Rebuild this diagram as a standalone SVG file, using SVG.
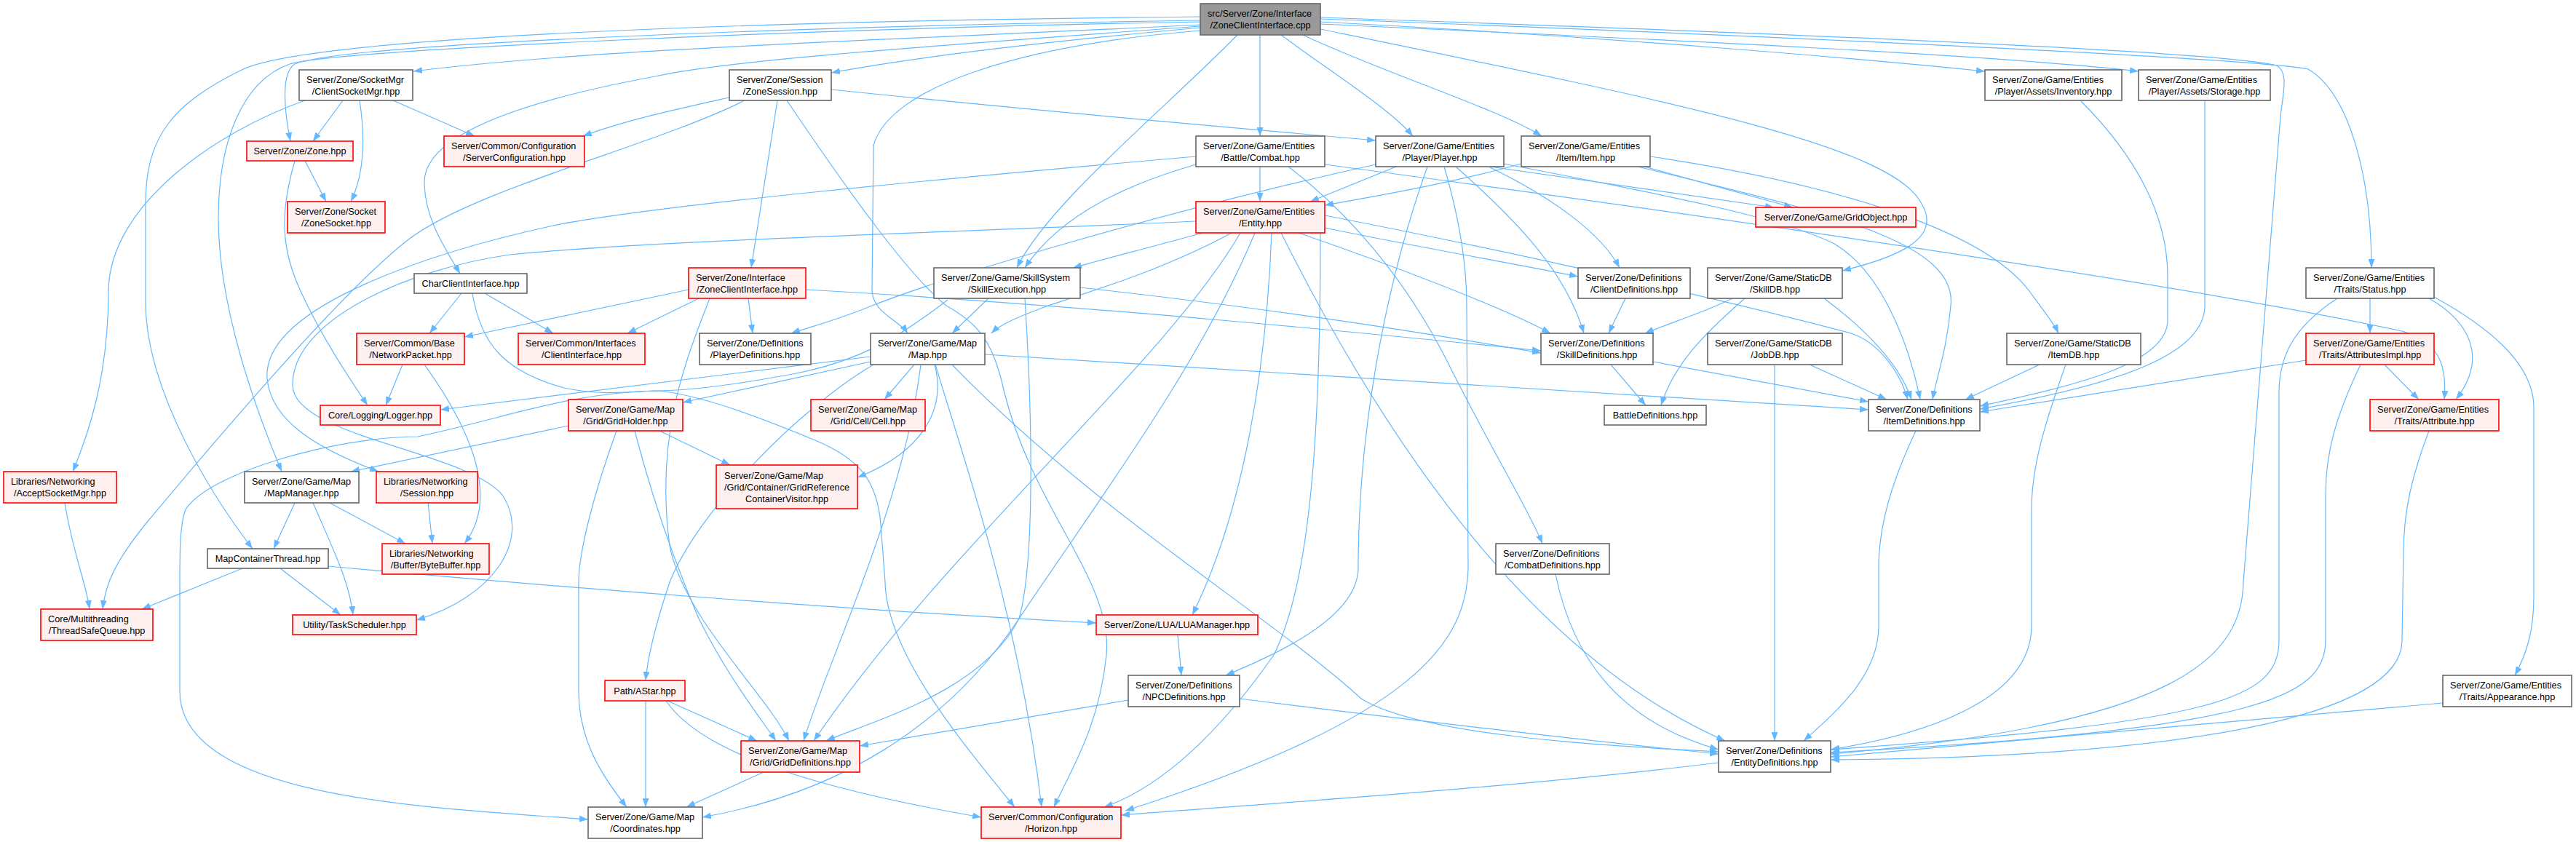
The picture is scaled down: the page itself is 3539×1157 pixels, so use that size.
<svg xmlns="http://www.w3.org/2000/svg" width="3539" height="1157" viewBox="0 0 3539 1157">
<style>
.t{font-family:"Liberation Sans",Arial,Helvetica,sans-serif;font-size:12.7px;fill:#000}
.s{text-anchor:start}
.m{text-anchor:middle}
.w rect{fill:#ffffff;stroke:#666666;stroke-width:1.6}
.r rect{fill:#fff0f0;stroke:#ff0000;stroke-width:1.6}
.g rect{fill:#999999;stroke:#666666;stroke-width:1.6}
#edges path{fill:none;stroke:#63b8ff;stroke-width:1.2;marker-end:url(#a)}
</style>
<defs>
<marker id="a" markerUnits="userSpaceOnUse" markerWidth="12" markerHeight="9" refX="12" refY="4.5" orient="auto"><path d="M0,0 L12,4.5 L0,9 z" fill="#63b8ff"/></marker>
</defs>
<rect width="3539" height="1157" fill="#ffffff"/>
<g id="edges">
<path d="M1649,34 C1300,52 820,66 568,98"/>
<path d="M1649,28 C1100,36 470,60 405,88 C386,100 390,150 399,194"/>
<path d="M1649,23 C1100,28 420,48 330,97 C240,142 200,185 200,280 L200,420 C203,540 290,680 347,754"/>
<path d="M1649,30 C1100,40 470,68 398,88 C330,112 300,200 300,300 C300,420 350,560 387,648"/>
<path d="M1649,38 C1450,56 1260,78 1142,100"/>
<path d="M1649,36 C1300,62 1000,82 900,105 C700,142 583,190 583,250 C583,300 612,342 632,376"/>
<path d="M1731,48 L1731,187"/>
<path d="M1700,48 C1600,150 1440,280 1397,368"/>
<path d="M1649,42 C1400,62 1222,120 1200,200 L1198,400 C1200,430 1235,440 1247,458"/>
<path d="M1760,48 C1830,100 1910,150 1941,187"/>
<path d="M1790,48 C1900,100 2060,150 2118,187"/>
<path d="M1814,40 C2300,140 2600,200 2640,280 C2670,330 2600,355 2531,372"/>
<path d="M1814,30 C2200,50 2550,80 2727,98"/>
<path d="M1814,33 C2300,55 2750,76 2938,98"/>
<path d="M1814,26 C2400,48 3100,80 3171,95 C3230,130 3258,250 3258,368"/>
<path d="M1814,24 C2400,44 3050,70 3128,90 C3145,100 3136,130 3133,160 L3082,800 C3080,900 3000,995 2515,1036"/>
<path d="M471,138 L430,194"/>
<path d="M494,138 C502,190 500,240 482,277"/>
<path d="M540,138 L652,187"/>
<path d="M419,138 C300,180 150,280 149,400 C149,520 120,600 100,648"/>
<path d="M419,221 L448,277"/>
<path d="M405,221 C385,290 385,340 413,400 C440,460 480,520 505,557"/>
<path d="M1002,134 C930,150 860,165 801,187"/>
<path d="M1142,123 C1500,160 1750,180 1890,193"/>
<path d="M1068,138 L1032,368"/>
<path d="M1023,138 C900,200 650,260 560,330 C470,400 300,600 200,720 C160,770 145,800 141,837"/>
<path d="M1081,138 C1170,270 1250,380 1300,420 C1345,445 1365,470 1380,540 C1420,700 1530,800 1520,900 C1510,1000 1470,1060 1448,1109"/>
<path d="M649,403 C660,470 690,510 775,533 C830,545 880,537 900,537 C960,540 1060,580 1120,605 C1180,630 1205,660 1210,720 L1216,800 C1218,900 1330,1030 1394,1109"/>
<path d="M1731,229 L1731,277"/>
<path d="M1643,226 C1560,250 1460,290 1408,368"/>
<path d="M1820,226 C2300,290 3000,390 3300,455 C3350,470 3362,500 3358,549"/>
<path d="M1770,229 C1850,290 1930,380 1990,500 C2050,620 2100,700 2119,747"/>
<path d="M1643,215 C1300,245 900,282 760,310 C600,345 360,420 367,520 C372,580 440,618 520,648"/>
<path d="M1918,229 L1800,277"/>
<path d="M2090,225 C2000,250 1900,268 1820,282"/>
<path d="M2047,229 C2200,252 2350,272 2437,285"/>
<path d="M2259,229 L2463,285"/>
<path d="M1890,226 C1600,290 1300,380 1198,420 C1150,440 1110,450 1087,458"/>
<path d="M2045,229 C2130,270 2200,320 2225,368"/>
<path d="M1820,313 C1950,340 2080,362 2168,380"/>
<path d="M1652,320 C1580,340 1520,355 1474,368"/>
<path d="M1784,320 C1900,360 2060,420 2130,458"/>
<path d="M2000,229 C2080,300 2150,370 2176,458"/>
<path d="M1984,229 C2005,300 2015,360 2015,420 L2017,780 C2015,880 1950,985 1546,1114"/>
<path d="M2233,410 L2210,458"/>
<path d="M2380,410 C2340,430 2290,445 2260,458"/>
<path d="M2397,410 C2340,460 2300,500 2282,557"/>
<path d="M2506,410 C2560,450 2610,500 2626,549"/>
<path d="M1820,296 C2100,350 2400,420 2543,458 C2580,470 2610,510 2621,549"/>
<path d="M2066,225 C2300,270 2450,300 2520,335 C2580,370 2620,460 2638,549"/>
<path d="M2250,229 C2500,290 2690,330 2680,420 C2675,480 2660,520 2655,549"/>
<path d="M2213,501 L2261,557"/>
<path d="M2271,497 L2567,552"/>
<path d="M2486,501 L2592,549"/>
<path d="M2438,501 L2438,1018"/>
<path d="M2802,501 L2700,549"/>
<path d="M2838,501 C2810,580 2791,640 2791,700 L2791,860 C2791,940 2700,1000 2515,1030"/>
<path d="M2267,215 C2500,250 2720,310 2788,400 C2810,430 2822,445 2828,458"/>
<path d="M2632,592 C2600,660 2581,720 2581,780 L2581,860 C2581,930 2520,980 2478,1018"/>
<path d="M2858,138 C2940,220 2978,300 2978,380 L2978,440 C2978,500 2850,530 2720,558"/>
<path d="M3029,138 L3029,420 C3029,490 2900,530 2720,562"/>
<path d="M3168,495 L2720,566"/>
<path d="M3256,410 L3256,458"/>
<path d="M3337,410 C3390,440 3420,490 3374,549"/>
<path d="M3344,408 C3420,450 3481,500 3481,560 L3481,820 C3481,870 3470,900 3455,928"/>
<path d="M3211,410 C3150,450 3131,490 3131,540 L3131,880 C3131,960 3050,992 2515,1030"/>
<path d="M3276,501 L3323,549"/>
<path d="M3243,501 C3210,570 3195,620 3195,680 L3195,880 C3195,960 3100,1002 2515,1034"/>
<path d="M3337,592 C3315,650 3302,700 3302,760 L3300,880 C3300,985 3000,1040 2515,1044"/>
<path d="M3356,966 L2515,1040"/>
<path d="M2137,789 C2160,900 2220,990 2361,1030"/>
<path d="M1703,960 C1900,985 2200,1020 2361,1036"/>
<path d="M1550,962 L1181,1025"/>
<path d="M1618,872 L1623,928"/>
<path d="M1747,320 C1740,500 1710,700 1638,845"/>
<path d="M1961,229 C1900,400 1866,600 1866,780 C1866,850 1750,900 1684,928"/>
<path d="M2361,1048 C2100,1080 1800,1100 1540,1120"/>
<path d="M915,963 C960,1030 1100,1080 1348,1123"/>
<path d="M887,963 L887,1109"/>
<path d="M917,963 L1040,1018"/>
<path d="M1049,1061 L943,1109"/>
<path d="M1256,501 L1215,549"/>
<path d="M1196,497 L938,553"/>
<path d="M1284,501 C1300,560 1270,620 1178,656"/>
<path d="M1196,490 L605,563"/>
<path d="M1353,487 L2567,563"/>
<path d="M1308,501 C1500,700 1750,850 1870,960 C1950,1010 2200,1025 2361,1033"/>
<path d="M1285,501 C1330,650 1400,850 1431,1109"/>
<path d="M1200,501 C1100,560 960,700 920,800 C900,860 890,900 887,935"/>
<path d="M1265,501 C1240,700 1140,900 1104,1018"/>
<path d="M1692,320 C1600,370 1500,400 1440,420 C1400,435 1375,445 1362,458"/>
<path d="M1724,320 C1650,500 1500,700 1400,850 C1300,1000 1150,1090 965,1123"/>
<path d="M1704,320 C1600,500 1300,750 1118,1018"/>
<path d="M1814,320 C1814,600 1800,800 1750,900 C1680,1000 1600,1080 1517,1109"/>
<path d="M1760,320 C1900,600 2100,900 2370,1018"/>
<path d="M1643,304 C1300,320 900,330 700,350 C560,370 400,440 402,530 C404,600 640,620 690,680 C730,740 680,820 572,852"/>
<path d="M946,398 L638,463"/>
<path d="M960,410 L862,458"/>
<path d="M1028,410 L1034,458"/>
<path d="M1107,398 C1500,420 1900,460 2117,482"/>
<path d="M634,403 L590,458"/>
<path d="M666,403 L760,458"/>
<path d="M553,501 L530,557"/>
<path d="M583,501 C640,580 690,680 638,747"/>
<path d="M781,585 L482,648"/>
<path d="M906,592 L1003,639"/>
<path d="M872,592 C900,700 930,780 960,850 C1000,930 1040,980 1066,1018"/>
<path d="M847,592 C815,680 795,760 795,800 L795,950 C795,1020 830,1070 861,1109"/>
<path d="M405,691 L376,754"/>
<path d="M453,691 L557,747"/>
<path d="M430,691 C460,760 480,800 485,845"/>
<path d="M588,691 L594,747"/>
<path d="M333,781 L195,837"/>
<path d="M385,781 L468,845"/>
<path d="M451,778 C800,810 1200,840 1506,856"/>
<path d="M89,691 C100,760 118,800 123,837"/>
<path d="M1358,410 L1308,458"/>
<path d="M1484,395 C1800,430 2000,465 2117,485"/>
<path d="M1302,412 C1240,460 1180,500 1072,517 C1000,530 940,537 900,537 C780,540 700,573 574,600 C460,600 287,650 255,700 C247,720 247,760 247,800 L247,950 C247,1100 600,1110 808,1126"/>
<path d="M1408,410 C1420,600 1420,780 1400,850 C1350,950 1200,990 1135,1018"/>
<path d="M975,410 C940,500 900,600 920,750 C940,850 1050,950 1084,1018"/>
</g>
<g id="n_root" class="g"><rect x="1649" y="5" width="165" height="43"/><text class="t s" x="1659" y="22.5">src/Server/Zone/Interface</text><text class="t m" x="1731.5" y="38.5">/ZoneClientInterface.cpp</text></g>
<g id="n_clientsocketmgr" class="w"><rect x="411" y="96" width="156" height="42"/><text class="t s" x="421" y="113.5">Server/Zone/SocketMgr</text><text class="t m" x="489" y="129.5">/ClientSocketMgr.hpp</text></g>
<g id="n_zonesession" class="w"><rect x="1002" y="96" width="140" height="42"/><text class="t s" x="1012" y="113.5">Server/Zone/Session</text><text class="t m" x="1072" y="129.5">/ZoneSession.hpp</text></g>
<g id="n_inventory" class="w"><rect x="2727" y="96" width="188" height="42"/><text class="t s" x="2737" y="113.5">Server/Zone/Game/Entities</text><text class="t m" x="2821" y="129.5">/Player/Assets/Inventory.hpp</text></g>
<g id="n_storage" class="w"><rect x="2938" y="96" width="181" height="42"/><text class="t s" x="2948" y="113.5">Server/Zone/Game/Entities</text><text class="t m" x="3028.5" y="129.5">/Player/Assets/Storage.hpp</text></g>
<g id="n_zone" class="r"><rect x="339" y="194" width="146" height="27"/><text class="t m" x="412" y="212">Server/Zone/Zone.hpp</text></g>
<g id="n_serverconfiguration" class="r"><rect x="610" y="187" width="193" height="42"/><text class="t s" x="620" y="204.5">Server/Common/Configuration</text><text class="t m" x="706.5" y="220.5">/ServerConfiguration.hpp</text></g>
<g id="n_combat" class="w"><rect x="1643" y="187" width="177" height="42"/><text class="t s" x="1653" y="204.5">Server/Zone/Game/Entities</text><text class="t m" x="1731.5" y="220.5">/Battle/Combat.hpp</text></g>
<g id="n_player" class="w"><rect x="1890" y="187" width="176" height="42"/><text class="t s" x="1900" y="204.5">Server/Zone/Game/Entities</text><text class="t m" x="1978" y="220.5">/Player/Player.hpp</text></g>
<g id="n_item" class="w"><rect x="2090" y="187" width="177" height="42"/><text class="t s" x="2100" y="204.5">Server/Zone/Game/Entities</text><text class="t m" x="2178.5" y="220.5">/Item/Item.hpp</text></g>
<g id="n_zonesocket" class="r"><rect x="395" y="277" width="134" height="43"/><text class="t s" x="405" y="294.5">Server/Zone/Socket</text><text class="t m" x="462" y="310.5">/ZoneSocket.hpp</text></g>
<g id="n_entity" class="r"><rect x="1643" y="277" width="177" height="43"/><text class="t s" x="1653" y="294.5">Server/Zone/Game/Entities</text><text class="t m" x="1731.5" y="310.5">/Entity.hpp</text></g>
<g id="n_gridobject" class="r"><rect x="2412" y="285" width="220" height="27"/><text class="t m" x="2522" y="303">Server/Zone/Game/GridObject.hpp</text></g>
<g id="n_charclientinterface" class="w"><rect x="569" y="376" width="155" height="27"/><text class="t m" x="646.5" y="394">CharClientInterface.hpp</text></g>
<g id="n_zoneclientinterface" class="r"><rect x="946" y="368" width="161" height="42"/><text class="t s" x="956" y="385.5">Server/Zone/Interface</text><text class="t m" x="1026.5" y="401.5">/ZoneClientInterface.hpp</text></g>
<g id="n_skillexecution" class="w"><rect x="1283" y="368" width="201" height="42"/><text class="t s" x="1293" y="385.5">Server/Zone/Game/SkillSystem</text><text class="t m" x="1383.5" y="401.5">/SkillExecution.hpp</text></g>
<g id="n_clientdefinitions" class="w"><rect x="2168" y="368" width="154" height="42"/><text class="t s" x="2178" y="385.5">Server/Zone/Definitions</text><text class="t m" x="2245" y="401.5">/ClientDefinitions.hpp</text></g>
<g id="n_skilldb" class="w"><rect x="2346" y="368" width="185" height="42"/><text class="t s" x="2356" y="385.5">Server/Zone/Game/StaticDB</text><text class="t m" x="2438.5" y="401.5">/SkillDB.hpp</text></g>
<g id="n_status" class="w"><rect x="3168" y="368" width="176" height="42"/><text class="t s" x="3178" y="385.5">Server/Zone/Game/Entities</text><text class="t m" x="3256" y="401.5">/Traits/Status.hpp</text></g>
<g id="n_networkpacket" class="r"><rect x="490" y="458" width="148" height="43"/><text class="t s" x="500" y="475.5">Server/Common/Base</text><text class="t m" x="564" y="491.5">/NetworkPacket.hpp</text></g>
<g id="n_clientinterface" class="r"><rect x="712" y="458" width="174" height="43"/><text class="t s" x="722" y="475.5">Server/Common/Interfaces</text><text class="t m" x="799" y="491.5">/ClientInterface.hpp</text></g>
<g id="n_playerdefinitions" class="w"><rect x="961" y="458" width="153" height="43"/><text class="t s" x="971" y="475.5">Server/Zone/Definitions</text><text class="t m" x="1037.5" y="491.5">/PlayerDefinitions.hpp</text></g>
<g id="n_map" class="w"><rect x="1196" y="458" width="157" height="43"/><text class="t s" x="1206" y="475.5">Server/Zone/Game/Map</text><text class="t m" x="1274.5" y="491.5">/Map.hpp</text></g>
<g id="n_skilldefinitions" class="w"><rect x="2117" y="458" width="154" height="43"/><text class="t s" x="2127" y="475.5">Server/Zone/Definitions</text><text class="t m" x="2194" y="491.5">/SkillDefinitions.hpp</text></g>
<g id="n_jobdb" class="w"><rect x="2346" y="458" width="185" height="43"/><text class="t s" x="2356" y="475.5">Server/Zone/Game/StaticDB</text><text class="t m" x="2438.5" y="491.5">/JobDB.hpp</text></g>
<g id="n_itemdb" class="w"><rect x="2757" y="458" width="184" height="43"/><text class="t s" x="2767" y="475.5">Server/Zone/Game/StaticDB</text><text class="t m" x="2849" y="491.5">/ItemDB.hpp</text></g>
<g id="n_attributesimpl" class="r"><rect x="3168" y="458" width="176" height="43"/><text class="t s" x="3178" y="475.5">Server/Zone/Game/Entities</text><text class="t m" x="3256" y="491.5">/Traits/AttributesImpl.hpp</text></g>
<g id="n_logger" class="r"><rect x="440" y="557" width="165" height="27"/><text class="t m" x="522.5" y="575">Core/Logging/Logger.hpp</text></g>
<g id="n_gridholder" class="r"><rect x="781" y="549" width="157" height="43"/><text class="t s" x="791" y="566.5">Server/Zone/Game/Map</text><text class="t m" x="859.5" y="582.5">/Grid/GridHolder.hpp</text></g>
<g id="n_cell" class="r"><rect x="1114" y="549" width="157" height="43"/><text class="t s" x="1124" y="566.5">Server/Zone/Game/Map</text><text class="t m" x="1192.5" y="582.5">/Grid/Cell/Cell.hpp</text></g>
<g id="n_battledefinitions" class="w"><rect x="2204" y="557" width="140" height="27"/><text class="t m" x="2274" y="575">BattleDefinitions.hpp</text></g>
<g id="n_itemdefinitions" class="w"><rect x="2567" y="549" width="153" height="43"/><text class="t s" x="2577" y="566.5">Server/Zone/Definitions</text><text class="t m" x="2643.5" y="582.5">/ItemDefinitions.hpp</text></g>
<g id="n_attribute" class="r"><rect x="3256" y="549" width="177" height="43"/><text class="t s" x="3266" y="566.5">Server/Zone/Game/Entities</text><text class="t m" x="3344.5" y="582.5">/Traits/Attribute.hpp</text></g>
<g id="n_acceptsocketmgr" class="r"><rect x="5" y="648" width="155" height="43"/><text class="t s" x="15" y="665.5">Libraries/Networking</text><text class="t m" x="82.5" y="681.5">/AcceptSocketMgr.hpp</text></g>
<g id="n_mapmanager" class="w"><rect x="336" y="648" width="157" height="43"/><text class="t s" x="346" y="665.5">Server/Zone/Game/Map</text><text class="t m" x="414.5" y="681.5">/MapManager.hpp</text></g>
<g id="n_session" class="r"><rect x="517" y="648" width="139" height="43"/><text class="t s" x="527" y="665.5">Libraries/Networking</text><text class="t m" x="586.5" y="681.5">/Session.hpp</text></g>
<g id="n_gridreference" class="r"><rect x="984" y="639" width="194" height="60"/><text class="t s" x="995" y="658">Server/Zone/Game/Map</text><text class="t s" x="995" y="674">/Grid/Container/GridReference</text><text class="t m" x="1081" y="690">ContainerVisitor.hpp</text></g>
<g id="n_mapcontainerthread" class="w"><rect x="285" y="754" width="166" height="27"/><text class="t m" x="368" y="772">MapContainerThread.hpp</text></g>
<g id="n_bytebuffer" class="r"><rect x="525" y="747" width="147" height="42"/><text class="t s" x="535" y="764.5">Libraries/Networking</text><text class="t m" x="598.5" y="780.5">/Buffer/ByteBuffer.hpp</text></g>
<g id="n_combatdefinitions" class="w"><rect x="2055" y="747" width="156" height="42"/><text class="t s" x="2065" y="764.5">Server/Zone/Definitions</text><text class="t m" x="2133" y="780.5">/CombatDefinitions.hpp</text></g>
<g id="n_threadsafequeue" class="r"><rect x="56" y="837" width="154" height="43"/><text class="t s" x="66" y="854.5">Core/Multithreading</text><text class="t m" x="133" y="870.5">/ThreadSafeQueue.hpp</text></g>
<g id="n_taskscheduler" class="r"><rect x="402" y="845" width="170" height="27"/><text class="t m" x="487" y="863">Utility/TaskScheduler.hpp</text></g>
<g id="n_luamanager" class="r"><rect x="1506" y="845" width="222" height="27"/><text class="t m" x="1617" y="863">Server/Zone/LUA/LUAManager.hpp</text></g>
<g id="n_astar" class="r"><rect x="831" y="935" width="110" height="28"/><text class="t m" x="886" y="953.5">Path/AStar.hpp</text></g>
<g id="n_npcdefinitions" class="w"><rect x="1550" y="928" width="153" height="43"/><text class="t s" x="1560" y="945.5">Server/Zone/Definitions</text><text class="t m" x="1626.5" y="961.5">/NPCDefinitions.hpp</text></g>
<g id="n_appearance" class="w"><rect x="3356" y="928" width="177" height="43"/><text class="t s" x="3366" y="945.5">Server/Zone/Game/Entities</text><text class="t m" x="3444.5" y="961.5">/Traits/Appearance.hpp</text></g>
<g id="n_griddefinitions" class="r"><rect x="1018" y="1018" width="163" height="43"/><text class="t s" x="1028" y="1035.5">Server/Zone/Game/Map</text><text class="t m" x="1099.5" y="1051.5">/Grid/GridDefinitions.hpp</text></g>
<g id="n_entitydefinitions" class="w"><rect x="2361" y="1018" width="154" height="43"/><text class="t s" x="2371" y="1035.5">Server/Zone/Definitions</text><text class="t m" x="2438" y="1051.5">/EntityDefinitions.hpp</text></g>
<g id="n_coordinates" class="w"><rect x="808" y="1109" width="157" height="43"/><text class="t s" x="818" y="1126.5">Server/Zone/Game/Map</text><text class="t m" x="886.5" y="1142.5">/Coordinates.hpp</text></g>
<g id="n_horizon" class="r"><rect x="1348" y="1109" width="192" height="43"/><text class="t s" x="1358" y="1126.5">Server/Common/Configuration</text><text class="t m" x="1444" y="1142.5">/Horizon.hpp</text></g>
</svg>
